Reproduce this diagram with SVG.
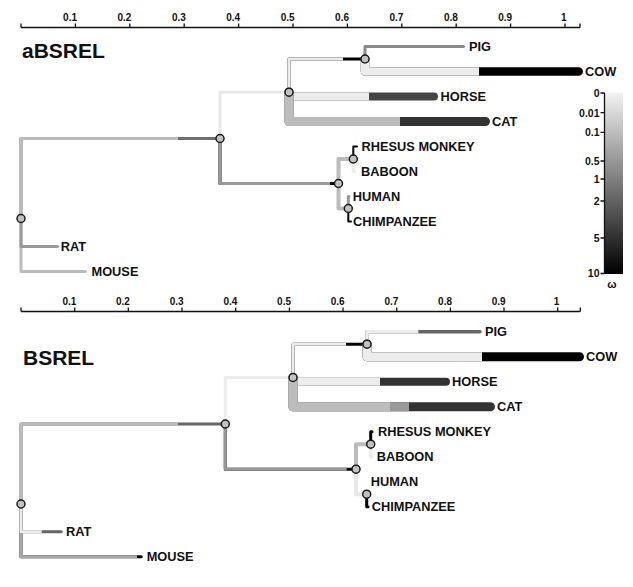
<svg xmlns="http://www.w3.org/2000/svg" width="633" height="587" viewBox="0 0 633 587">
<defs>
<linearGradient id="omega" x1="0" y1="0" x2="0" y2="1">
<stop offset="0" stop-color="#f2f2f2"/>
<stop offset="1" stop-color="#000000"/>
</linearGradient>
</defs>
<style>
text{font-family:"Liberation Sans",Arial,Helvetica,sans-serif;fill:#111}
.title{font-size:21px;font-weight:bold}
.tick{font-size:10px;font-weight:bold;text-anchor:end}
.leaf{font-size:12.8px;font-weight:bold}
.axis{stroke:#111;stroke-width:1.3;fill:none}
.br{fill:none;stroke-linejoin:round;stroke-linecap:round}
.cut{fill:none;stroke-linejoin:round;stroke-linecap:butt}
.node{fill:#c2c2c2;stroke:#1a1a1a;stroke-width:1.5}
.lg{font-size:10.5px;font-weight:bold;text-anchor:end}
</style>
<rect width="633" height="587" fill="#ffffff"/>

<!-- top axis -->
<g id="axis-top">
<path class="axis" d="M21,27.5H580M21,23.5V27.5M75.4,23.5V27.5M129.8,23.5V27.5M184.2,23.5V27.5M238.6,23.5V27.5M293,23.5V27.5M347.4,23.5V27.5M401.8,23.5V27.5M456.2,23.5V27.5M510.6,23.5V27.5M565,23.5V27.5M580,23.5V27.5"/>
<text class="tick" x="77" y="21">0.1</text>
<text class="tick" x="131.4" y="21">0.2</text>
<text class="tick" x="185.8" y="21">0.3</text>
<text class="tick" x="240.2" y="21">0.4</text>
<text class="tick" x="294.6" y="21">0.5</text>
<text class="tick" x="349" y="21">0.6</text>
<text class="tick" x="403.4" y="21">0.7</text>
<text class="tick" x="457.8" y="21">0.8</text>
<text class="tick" x="512.2" y="21">0.9</text>
<text class="tick" x="566.6" y="21">1</text>
</g>
<text class="title" x="22" y="58">aBSREL</text>

<!-- top tree connectors -->
<g id="connectors-top">
<path class="br" stroke="#6e6e6e" stroke-width="3" d="M21,218.5V138.5H220"/>
<path class="cut" stroke="#bcbcbc" stroke-width="3" d="M21,218.5V138.5H178"/>
<path class="br" stroke="#bcbcbc" stroke-width="3" d="M21,218.5V271.5H85.5"/>
<path class="br" stroke="#999999" stroke-width="3" d="M21,218.5V246.5H57.5"/>
<path class="br" stroke="#e8e8e8" stroke-width="3" d="M220,138.5V92.2H289"/>
<path class="br" stroke="#000000" stroke-width="3" d="M220,138.5V183.5H338.5"/>
<path class="cut" stroke="#999999" stroke-width="3" d="M220,138.5V183.5H330"/>
<path class="br" stroke="#000000" stroke-width="3" d="M289,92.2V59H365"/>
<path class="cut" stroke="#ececec" stroke-width="3" d="M289,92.2V59H343"/>
<path class="br" stroke="#8a8a8a" stroke-width="3" d="M365,59V46.5H463.5"/>
<path class="br" stroke="#000000" stroke-width="8.5" d="M365,59V71.5H578.7"/>
<path class="cut" stroke="#ececec" stroke-width="8.5" d="M365,59V71.5H479"/>
<path class="br" stroke="#444444" stroke-width="8" d="M289,92.2V96.5H434"/>
<path class="cut" stroke="#ececec" stroke-width="8" d="M289,92.2V96.5H369"/>
<path class="br" stroke="#333333" stroke-width="9" d="M289,92.2V121.5H485.5"/>
<path class="cut" stroke="#bcbcbc" stroke-width="9" d="M289,92.2V121.5H400"/>
<path class="br" stroke="#bcbcbc" stroke-width="4" d="M338.5,183.5V159H353.3"/>
<path class="br" stroke="#000000" stroke-width="2" d="M353.3,159V146.5H357"/>
<path class="br" stroke="#ececec" stroke-width="3" d="M353.3,159V171.5H355"/>
<path class="br" stroke="#bcbcbc" stroke-width="4" d="M338.5,183.5V208.5H348.3"/>
<path class="br" stroke="#999999" stroke-width="3" d="M348.3,208.5V196.5H349"/>
<path class="br" stroke="#000000" stroke-width="2" d="M348.3,208.5V221.5H351"/>
</g>

<!-- top tree nodes -->
<g id="top-root"><circle class="node" cx="21" cy="218.5" r="4"/></g>
<g id="top-n1"><circle class="node" cx="220" cy="138.5" r="4"/></g>
<g id="top-n2"><circle class="node" cx="289" cy="92.2" r="4"/></g>
<g id="top-n3"><circle class="node" cx="365" cy="59" r="4"/></g>
<g id="top-n4"><circle class="node" cx="338.5" cy="183.5" r="4"/></g>
<g id="top-n5"><circle class="node" cx="353.3" cy="159" r="4"/></g>
<g id="top-n6"><circle class="node" cx="348.3" cy="208.5" r="4"/></g>
<g id="top-pig"><text class="leaf" x="469" y="51">PIG</text></g>
<g id="top-cow"><text class="leaf" x="585" y="76">COW</text></g>
<g id="top-horse"><text class="leaf" x="440.5" y="101">HORSE</text></g>
<g id="top-cat"><text class="leaf" x="492" y="126">CAT</text></g>
<g id="top-rhesus"><text class="leaf" x="361.5" y="151">RHESUS MONKEY</text></g>
<g id="top-baboon"><text class="leaf" x="361" y="176">BABOON</text></g>
<g id="top-human"><text class="leaf" x="352.7" y="201">HUMAN</text></g>
<g id="top-chimp"><text class="leaf" x="353" y="226">CHIMPANZEE</text></g>
<g id="top-rat"><text class="leaf" x="60.7" y="251">RAT</text></g>
<g id="top-mouse"><text class="leaf" x="91.5" y="276">MOUSE</text></g>

<!-- legend -->
<g id="legend">
<rect x="604.5" y="93" width="18.5" height="181" fill="url(#omega)"/>
<path class="axis" d="M604.5,93V274M600.5,93H604.5M600.5,112.7H604.5M600.5,132.3H604.5M600.5,161H604.5M600.5,179H604.5M600.5,201H604.5M600.5,238H604.5M600.5,273.5H604.5"/>
<text class="lg" x="599.5" y="96.8">0</text>
<text class="lg" x="599.5" y="116.5">0.01</text>
<text class="lg" x="599.5" y="136.1">0.1</text>
<text class="lg" x="599.5" y="164.8">0.5</text>
<text class="lg" x="599.5" y="182.8">1</text>
<text class="lg" x="599.5" y="204.8">2</text>
<text class="lg" x="599.5" y="241.8">5</text>
<text class="lg" x="599.5" y="277.3">10</text>
<text x="612" y="288" style="font-size:11px;font-weight:bold;text-anchor:middle">ω</text>
</g>

<!-- bottom axis -->
<g id="axis-bottom">
<path class="axis" d="M21,311.5H580.3M21,307.5V311.5M74.7,307.5V311.5M128.3,307.5V311.5M182,307.5V311.5M235.7,307.5V311.5M289.4,307.5V311.5M343,307.5V311.5M396.7,307.5V311.5M450.4,307.5V311.5M504,307.5V311.5M557.7,307.5V311.5M580.3,307.5V311.5"/>
<text class="tick" x="76.3" y="305">0.1</text>
<text class="tick" x="129.9" y="305">0.2</text>
<text class="tick" x="183.6" y="305">0.3</text>
<text class="tick" x="237.3" y="305">0.4</text>
<text class="tick" x="291" y="305">0.5</text>
<text class="tick" x="344.6" y="305">0.6</text>
<text class="tick" x="398.3" y="305">0.7</text>
<text class="tick" x="452" y="305">0.8</text>
<text class="tick" x="505.6" y="305">0.9</text>
<text class="tick" x="559.3" y="305">1</text>
</g>
<text class="title" x="23" y="365">BSREL</text>

<!-- bottom tree connectors -->
<g id="connectors-bottom">
<path class="br" stroke="#666666" stroke-width="3" d="M21,504V424H225.3"/>
<path class="cut" stroke="#bcbcbc" stroke-width="3" d="M21,504V424H178"/>
<path class="br" stroke="#000000" stroke-width="3" d="M21,504V556.7H141.2"/>
<path class="cut" stroke="#aaaaaa" stroke-width="3" d="M21,504V556.7H137"/>
<path class="br" stroke="#666666" stroke-width="3" d="M21,504V531.7H61.2"/>
<path class="cut" stroke="#ececec" stroke-width="3" d="M21,504V531.7H41.7"/>
<path class="br" stroke="#ececec" stroke-width="3" d="M225.3,424V377.5H293"/>
<path class="br" stroke="#000000" stroke-width="3" d="M225.3,424V469.2H356"/>
<path class="cut" stroke="#999999" stroke-width="3" d="M225.3,424V469.2H346.7"/>
<path class="br" stroke="#000000" stroke-width="3" d="M293,377.5V344.2H367"/>
<path class="cut" stroke="#ececec" stroke-width="3" d="M293,377.5V344.2H346"/>
<path class="br" stroke="#666666" stroke-width="3.5" d="M367,344.2V331.7H480"/>
<path class="cut" stroke="#ececec" stroke-width="3.5" d="M367,344.2V331.7H418.3"/>
<path class="br" stroke="#000000" stroke-width="9" d="M367,344.2V356.7H579.5"/>
<path class="cut" stroke="#ececec" stroke-width="9" d="M367,344.2V356.7H482"/>
<path class="br" stroke="#333333" stroke-width="8" d="M293,377.5V381.7H446"/>
<path class="cut" stroke="#ececec" stroke-width="8" d="M293,377.5V381.7H380"/>
<path class="br" stroke="#333333" stroke-width="9" d="M293,377.5V406.7H490.5"/>
<path class="cut" stroke="#999999" stroke-width="9" d="M293,377.5V406.7H409"/>
<path class="cut" stroke="#bcbcbc" stroke-width="9" d="M293,377.5V406.7H390"/>
<path class="br" stroke="#bcbcbc" stroke-width="4" d="M356,469.2V444.2H370.7"/>
<path class="br" stroke="#000000" stroke-width="3" d="M370.7,444.2V431.7H372"/>
<path class="br" stroke="#ececec" stroke-width="3" d="M370.7,444.2V456.7H372"/>
<path class="br" stroke="#e8e8e8" stroke-width="4" d="M356,469.2V494.2H366.7"/>
<path class="br" stroke="#000000" stroke-width="3" d="M366.7,494.2V506.7H368"/>
</g>

<!-- bottom tree nodes -->
<g id="bot-root"><circle class="node" cx="21" cy="504" r="4"/></g>
<g id="bot-n1"><circle class="node" cx="225.3" cy="424" r="4"/></g>
<g id="bot-n2"><circle class="node" cx="293" cy="377.5" r="4"/></g>
<g id="bot-n3"><circle class="node" cx="367" cy="344.2" r="4"/></g>
<g id="bot-n4"><circle class="node" cx="356" cy="469.2" r="4"/></g>
<g id="bot-n5"><circle class="node" cx="370.7" cy="444.2" r="4"/></g>
<g id="bot-n6"><circle class="node" cx="366.7" cy="494.2" r="4"/></g>
<g id="bot-pig"><text class="leaf" x="485" y="336.2">PIG</text></g>
<g id="bot-cow"><text class="leaf" x="586" y="361.2">COW</text></g>
<g id="bot-horse"><text class="leaf" x="452" y="386.2">HORSE</text></g>
<g id="bot-cat"><text class="leaf" x="497" y="411.2">CAT</text></g>
<g id="bot-rhesus"><text class="leaf" x="378" y="436.2">RHESUS MONKEY</text></g>
<g id="bot-baboon"><text class="leaf" x="376.7" y="461.2">BABOON</text></g>
<g id="bot-human"><text class="leaf" x="370.7" y="486.2">HUMAN</text></g>
<g id="bot-chimp"><text class="leaf" x="371.7" y="511.2">CHIMPANZEE</text></g>
<g id="bot-rat"><text class="leaf" x="66" y="536.2">RAT</text></g>
<g id="bot-mouse"><text class="leaf" x="146.7" y="561.2">MOUSE</text></g>
</svg>
